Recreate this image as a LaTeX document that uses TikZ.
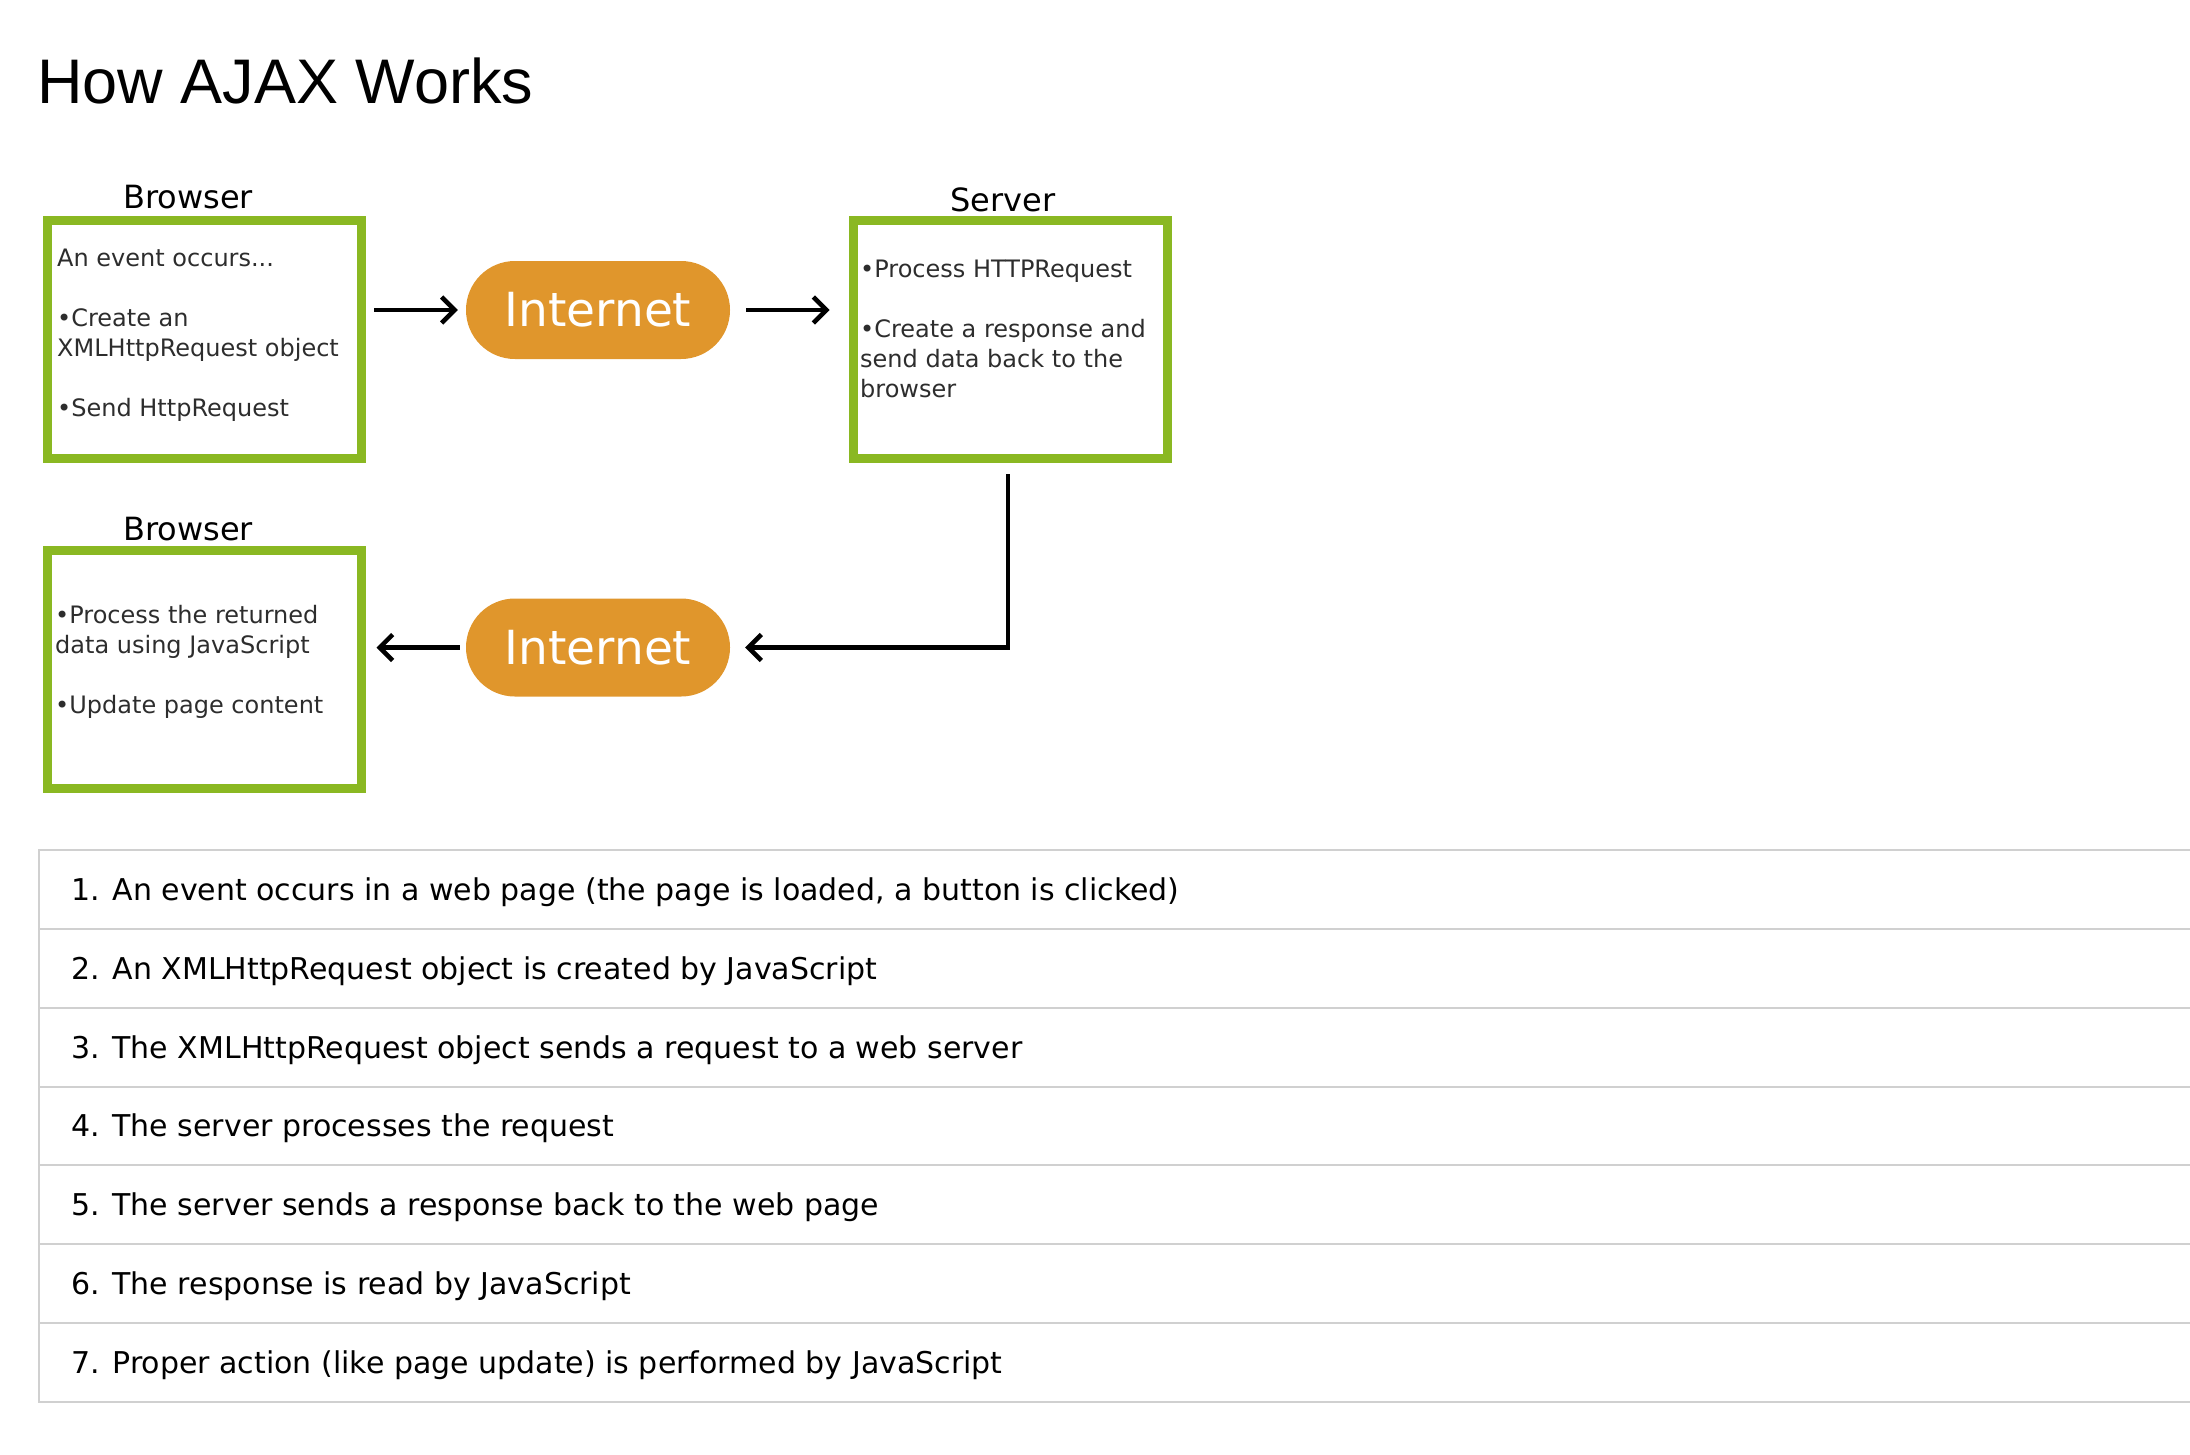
\documentclass[tikz,border=0pt]{standalone}
\usepackage{fontspec}
\setmainfont{DejaVu Sans}
\newfontfamily\titlefont{Liberation Sans}
\usetikzlibrary{arrows.meta,positioning}
\definecolor{ajaxgreen}{RGB}{138,184,34}
\definecolor{ajaxorange}{RGB}{224,150,44}
\definecolor{ajaxtext}{RGB}{45,45,45}
\definecolor{ajaxrule}{RGB}{208,208,208}

\begin{document}
\begin{tikzpicture}[
  ajaxbox/.style  = {draw=ajaxgreen, line width=9pt, minimum width=314pt, minimum height=238pt, inner sep=0pt},
  ajaxhead/.style = {anchor=base, inner sep=0pt, font=\fontsize{32}{38}\selectfont},
  ajaxnote/.style = {anchor=base west, align=left, inner sep=0pt, text=ajaxtext, font=\fontsize{24}{30}\selectfont},
  ajaxnet/.style  = {fill=ajaxorange, rounded corners=48.9pt, minimum width=264pt, minimum height=98pt, inner sep=0pt, text=white, font=\fontsize{47}{52}\selectfont},
  ajaxlink/.style = {-{Straight Barb[length=13pt,width=26pt]}, line width=4.5pt},
  ajaxrow/.style  = {anchor=base west, inner sep=0pt, font=\fontsize{30}{36}\selectfont},
  x=1pt, y=-1pt,
]
  \useasboundingbox (0,0) rectangle (2190,1454);

  \node[anchor=base west, inner sep=0pt, font=\titlefont\fontsize{63}{70}\selectfont] (title) at (37,103) {How AJAX Works};

  % boxes
  \node[ajaxbox] (brw1) at (204.5,339) {};
  \node[ajaxbox] (srv)  at (1010,339.5) {};
  \node[ajaxbox] (brw2) at (204,669.5) {};
  \node[ajaxhead] (brw1head) at (188,208) {Browser};
  \node[ajaxhead] (srvhead)  at (1003,211) {Server};
  \node[ajaxhead] (brw2head) at (188,540) {Browser};

  % notes sit on the baseline of their last line
  \node[ajaxnote] (brw1txt) at (57,416.7) {An event occurs...\\[30pt]•Create an\\XMLHttpRequest object\\[30pt]•Send HttpRequest};
  \node[ajaxnote] (srvtxt)  at (860,397) {•Process HTTPRequest\\[30pt]•Create a response and\\send data back to the\\browser};
  \node[ajaxnote] (brw2txt) at (55,713) {•Process the returned\\data using JavaScript\\[30pt]•Update page content};

  % internet
  \node[ajaxnet] (net1) at (598,310) {Internet};
  \node[ajaxnet] (net2) at (598,647.5) {Internet};

  \draw[ajaxlink, shorten <=8pt, shorten >=8pt] (net1.west -| brw1.east) -- (net1.west);
  \draw[ajaxlink, shorten <=16pt, shorten >=19pt] (net1.east) -- (net1.east -| srv.west);
  \draw[ajaxlink, shorten <=11pt, shorten >=15pt] ([xshift=-2pt]srv.south) |- (net2.east);
  \draw[ajaxlink, shorten <=6pt, shorten >=11pt] (net2.west) -- (net2.west -| brw2.east);

  % steps table
  \foreach \k in {0,...,7}
    \draw[ajaxrule, line width=2pt] (39,{850+78.86*\k}) -- (2190,{850+78.86*\k});
  \draw[ajaxrule, line width=2pt] (39,849) -- (39,1403);
  \foreach \n/\t in {
      1/{An event occurs in a web page (the page is loaded, a button is clicked)},
      2/{An XMLHttpRequest object is created by JavaScript},
      3/{The XMLHttpRequest object sends a request to a web server},
      4/{The server processes the request},
      5/{The server sends a response back to the web page},
      6/{The response is read by JavaScript},
      7/{Proper action (like page update) is performed by JavaScript}}
    \node[ajaxrow] (row\n) at (71,{900.4+78.86*(\n-1)}) {\n. \t};
\end{tikzpicture}
\end{document}
